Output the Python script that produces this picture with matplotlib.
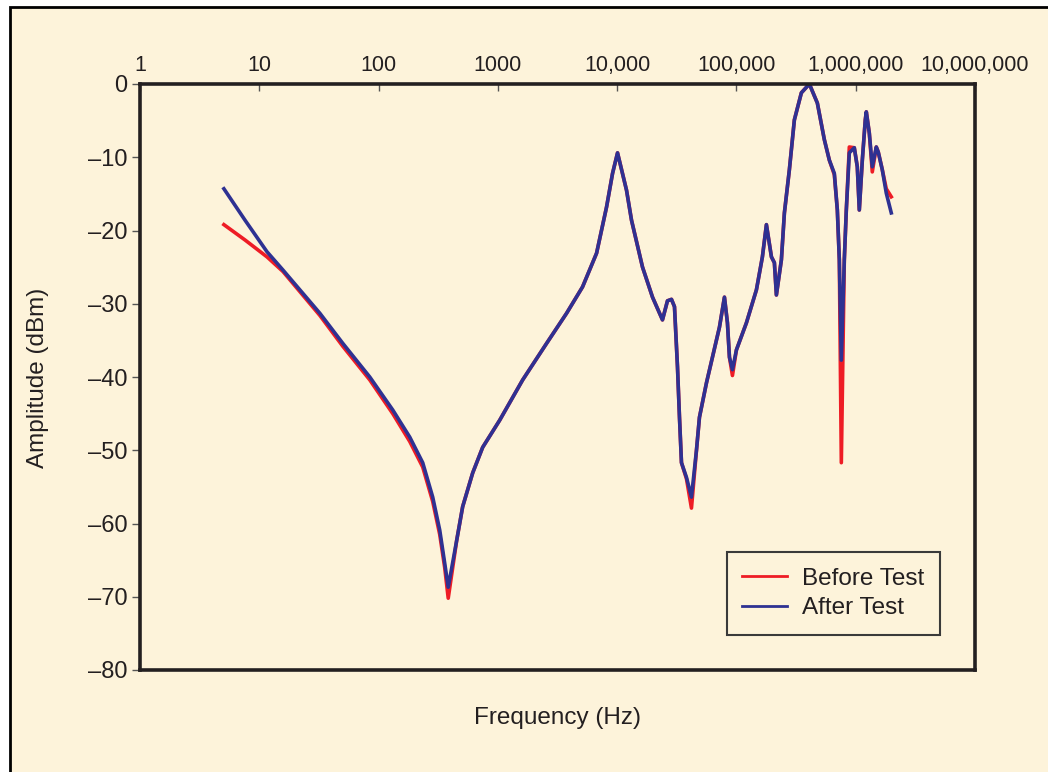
import matplotlib
matplotlib.use("Agg")
import matplotlib.pyplot as plt
from matplotlib.patches import Rectangle
from matplotlib.ticker import FixedLocator, NullLocator

plt.rcParams['font.family'] = ['Liberation Sans', 'DejaVu Sans']

# frequency points (Hz)
freq = [5.05, 7.6, 11.6, 15.8, 32.2, 50.1, 84.4, 131.5, 182.5, 234.5,
        284.4, 325.6, 358.3, 383.6, 451.8, 507, 615, 746, 1036, 1614,
        2564, 3768, 5129, 6723, 8150, 9153, 10075, 11985, 13200, 16320,
        19790, 23990, 26420, 28550, 30250, 32050, 33310, 34620, 38120, 41980,
        46240, 48980, 56080, 62950, 72060, 79350, 84050, 87390, 92580, 100000,
        121300, 147100, 165100, 178400, 196500, 208100, 216300, 238200, 252400, 277900,
        306000, 350300, 408800, 476900, 545800, 601200, 662000, 701300, 728900, 757500,
        802400, 834100, 883900, 973000, 1031000, 1072000, 1136000, 1203000, 1227000, 1300000,
        1377000, 1488000, 1546000, 1670000, 1804000, 1987000]

after_test = [-14.3, -18.6, -22.9, -25.4, -31.3, -35.4, -40.0, -44.5, -48.2, -51.7,
              -56.4, -60.9, -65.4, -68.7, -62.3, -57.7, -53.1, -49.6, -45.9, -40.4,
              -35.4, -31.3, -27.7, -23.1, -16.8, -12.2, -9.4, -14.5, -18.6, -25.0,
              -29.1, -32.2, -29.6, -29.4, -30.4, -38.6, -45.5, -51.7, -53.7, -56.4,
              -50.0, -45.5, -40.8, -37.3, -33.2, -29.1, -32.6, -37.3, -39.0, -36.3,
              -32.6, -28.1, -23.6, -19.2, -23.6, -24.4, -28.8, -24.0, -17.6, -11.7,
              -4.9, -1.2, 0.0, -2.6, -7.6, -10.4, -12.2, -17.2, -24.0, -37.7,
              -24.0, -17.2, -9.4, -8.7, -11.3, -17.2, -10.4, -4.9, -3.8, -6.7,
              -11.3, -8.6, -9.3, -11.7, -14.9, -17.6]

before_test = [-19.2, -21.3, -23.6, -25.6, -31.6, -35.8, -40.4, -45.0, -48.8, -52.3,
               -57.0, -61.5, -66.0, -70.2, -62.3, -57.7, -53.1, -49.6, -45.9, -40.4,
               -35.4, -31.3, -27.7, -23.1, -16.8, -12.2, -9.4, -14.5, -18.6, -25.0,
               -29.1, -32.2, -29.6, -29.4, -30.4, -38.6, -45.5, -51.7, -53.9, -57.9,
               -50.0, -45.5, -40.8, -37.3, -33.2, -29.1, -32.6, -37.3, -39.8, -36.3,
               -32.6, -28.1, -23.6, -19.2, -23.6, -24.4, -28.8, -24.0, -17.6, -11.7,
               -4.9, -1.2, 0.0, -2.6, -7.6, -10.4, -12.4, -17.2, -24.0, -51.7,
               -24.0, -17.2, -8.6, -8.7, -11.3, -17.2, -10.4, -4.9, -3.8, -6.7,
               -12.0, -8.6, -9.3, -11.7, -14.3, -15.4]

x_ticks = [1, 10, 100, 1000, 10000, 100000, 1000000, 10000000]
x_labels = ['1', '10', '100', '1000', '10,000', '100,000', '1,000,000', '10,000,000']
y_ticks = [0, -10, -20, -30, -40, -50, -60, -70, -80]
y_labels = ['0', '\u201310', '\u201320', '\u201330', '\u201340', '\u201350', '\u201360', '\u201370', '\u201380']

cream = '#fdf3da'
txt = '#231f20'

fig = plt.figure(figsize=(10.48, 7.72), dpi=100, facecolor='white')
# outer frame of the panel
fig.patches.append(Rectangle((10 / 1048, -0.05), 1.1, 1 - 7 / 772 + 0.05,
                             transform=fig.transFigure, facecolor=cream,
                             edgecolor='black', linewidth=2, zorder=-10))

ax = fig.add_axes([140 / 1048, 1 - 670 / 772, 835 / 1048, 586 / 772])
ax.set_zorder(5)
ax.set_facecolor(cream)

ax.plot(freq, before_test, color='#ee1c25', lw=2.6, label='Before Test', solid_joinstyle='round')
ax.plot(freq, after_test, color='#2e3192', lw=2.6, label='After Test', solid_joinstyle='round')

ax.set_xscale('log')
ax.set_xlim(1, 1e7)
ax.set_ylim(-80, 0)

ax.xaxis.set_major_locator(FixedLocator(x_ticks))
ax.xaxis.set_minor_locator(NullLocator())
ax.set_xticklabels(x_labels)
ax.xaxis.tick_top()
ax.tick_params(axis='x', direction='in', length=5, width=1, color='#555555',
               labelsize=15.5, labelcolor=txt, pad=6)
ax.set_yticks(y_ticks)
ax.set_yticklabels(y_labels)
ax.tick_params(axis='y', direction='out', length=6, width=1, color='#555555',
               labelsize=17, labelcolor=txt, pad=3)

for s in ax.spines.values():
    s.set_linewidth(2.6)
    s.set_color('#231f20')

fig.text(557 / 1048, 1 - 718 / 772, 'Frequency (Hz)', ha='center', va='center',
         fontsize=17.5, color=txt)
fig.text(38 / 1048, 1 - 378 / 772, 'Amplitude (dBm)', ha='center', va='center',
         rotation=90, fontsize=17.5, color=txt)

leg = ax.legend(loc='lower right', bbox_to_anchor=(0.958, 0.06), borderaxespad=0,
                fontsize=17.5, frameon=True, fancybox=False, handlelength=1.85,
                handletextpad=0.6, borderpad=0.65, labelspacing=0.3)
leg.get_frame().set_edgecolor('#3a3a3a')
leg.get_frame().set_linewidth(1.5)
leg.get_frame().set_facecolor(cream)
leg.get_frame().set_alpha(1)
for t in leg.get_texts():
    t.set_color(txt)
for h in leg.get_lines():
    h.set_linewidth(2)

fig.savefig('out.png', dpi=100, facecolor='white')
